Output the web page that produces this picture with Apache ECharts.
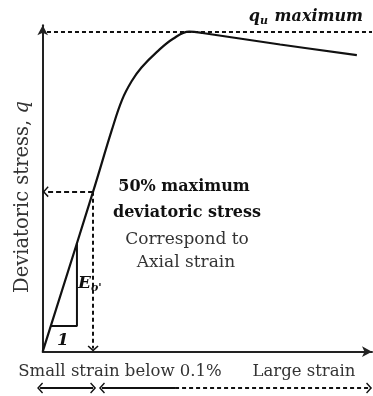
<!DOCTYPE html>
<html>
<head>
<meta charset="utf-8">
<script src="https://cdn.jsdelivr.net/npm/echarts@6/dist/echarts.min.js"></script>
<style>
  html, body { margin: 0; padding: 0; background: #fff; }
  #chart { width: 373px; height: 396px; }
</style>
</head>
<body>
<div id="chart"></div>
<script>
// Stress–strain curve: strain in arbitrary units, deviatoric stress in % of q_u
const strain = [0, 15.3, 21.0, 24.1, 27.0, 30.0, 34.7, 39.6, 44.5, 48.5, 72.1, 95.4];
const stress = [0, 50, 69.3, 78.7, 84.5, 88.8, 93.7, 97.8, 100, 99.6, 96.0, 92.7];
const qMax = 100;
const halfFraction = 0.5;
const halfStrain = 15.3;          // strain where the curve reaches 50 % of q_u
// Initial stiffness triangle (E_o)
const triStrain = [2.46, 10.4, 10.4];
const triStress = [8, 8, 34];
// Strain ranges along the bottom band: left end, small-strain limit, right start, solid end, right end
const bandStops = [-0.8, 15.3, 18.0, 40.2, 99.1];

const FONT = '"DejaVu Serif", "Liberation Serif", serif';
const INK = '#111';
const TXT = '#333';
// open chevron, tip pointing up (markLine rotates it along the line)
const chevron = 'path://M5,0 L10,5 L9,6 L5,2 L1,6 L0,5 Z';

const chart = echarts.init(document.getElementById('chart'), null, { renderer: 'canvas' });

const plainAxis = {
  axisTick: { show: false },
  axisLabel: { show: false },
  splitLine: { show: false }
};

function seg(x1, y1, x2, y2, s1, s2, dash) {
  return [
    { coord: [x1, y1], symbol: s1, symbolSize: [11, 6], lineStyle: { type: dash, color: INK, width: 2 } },
    { coord: [x2, y2], symbol: s2, symbolSize: [11, 6] }
  ];
}

function centered(text, x, y, font, fill) {
  return { type: 'text', x: x, y: y, style: { text: text, font: font, fill: fill, align: 'center', verticalAlign: 'middle' } };
}

const option = {
  animation: false,
  grid: [
    { left: 42.7, right: 1, top: 25.3, bottom: 44.3 },
    { left: 36.11, right: 1, top: 380, height: 20 }
  ],
  xAxis: [
    Object.assign({
      gridIndex: 0, type: 'value', min: 0, max: 100,
      axisLine: { show: true, symbol: ['none', 'arrow'], symbolSize: [8, 10], lineStyle: { color: '#222', width: 2 } }
    }, plainAxis),
    { gridIndex: 1, type: 'value', min: -2, max: 100, show: false }
  ],
  yAxis: [
    Object.assign({
      gridIndex: 0, type: 'value', min: 0, max: 102,
      axisLine: { show: true, symbol: ['none', 'arrow'], symbolSize: [8, 10], lineStyle: { color: '#222', width: 2 } }
    }, plainAxis),
    { gridIndex: 1, type: 'value', min: 0, max: 1, show: false }
  ],
  series: [
    {
      name: 'curve',
      type: 'line',
      xAxisIndex: 0, yAxisIndex: 0,
      data: strain.map((x, i) => [x, stress[i]]),
      smooth: 0.4,
      showSymbol: false,
      clip: false,
      silent: true,
      lineStyle: { color: INK, width: 2.2 },
      markLine: {
        silent: true,
        animation: false,
        label: { show: false },
        emphasis: { disabled: true },
        data: [
          seg(1.3, qMax, 100, qMax, 'none', 'none', [4, 3]),
          seg(halfStrain, qMax * halfFraction, 0.9, qMax * halfFraction, 'none', chevron, [5, 3]),
          seg(halfStrain, qMax * halfFraction, halfStrain, 1.0, 'none', chevron, [4, 3])
        ]
      }
    },
    {
      name: 'stiffness',
      type: 'line',
      xAxisIndex: 0, yAxisIndex: 0,
      data: triStrain.map((x, i) => [x, triStress[i]]),
      showSymbol: false,
      silent: true,
      lineStyle: { color: INK, width: 2 }
    },
    {
      name: 'band',
      type: 'line',
      xAxisIndex: 1, yAxisIndex: 1,
      data: [],
      markLine: {
        silent: true,
        animation: false,
        label: { show: false },
        emphasis: { disabled: true },
        data: [
          seg(bandStops[1], 0.5, bandStops[0], 0.5, chevron, chevron, 'solid'),
          seg(bandStops[2], 0.5, bandStops[3], 0.5, chevron, 'none', 'solid'),
          seg(bandStops[3], 0.5, bandStops[4], 0.5, 'none', chevron, [4, 3])
        ]
      }
    }
  ],
  graphic: [
    {
      type: 'text', x: 363, y: 17,
      style: {
        text: '{q|q}{s|u}{q| maximum}',
        align: 'right', verticalAlign: 'middle', fill: INK,
        rich: {
          q: { font: 'italic bold 16px ' + FONT, fill: INK },
          s: { font: 'italic bold 11px ' + FONT, fill: INK, padding: [8, 1, 0, 0] }
        }
      }
    },
    {
      type: 'text', x: 23, y: 197, rotation: Math.PI / 2,
      style: {
        text: '{r|Deviatoric stress, }{i|q}',
        align: 'center', verticalAlign: 'middle',
        rich: {
          r: { font: '19.5px ' + FONT, fill: TXT },
          i: { font: 'italic 19.5px ' + FONT, fill: TXT }
        }
      }
    },
    centered('50% maximum', 184, 187, 'bold 16px ' + FONT, INK),
    centered('deviatoric stress', 187, 213, 'bold 16px ' + FONT, INK),
    centered('Correspond to', 187, 240, '17px ' + FONT, TXT),
    centered('Axial strain', 186, 263, '17px ' + FONT, TXT),
    {
      type: 'text', x: 78, y: 284,
      style: {
        text: '{e|E}{s|o\'}',
        align: 'left', verticalAlign: 'middle',
        rich: {
          e: { font: 'italic bold 17px ' + FONT, fill: INK },
          s: { font: 'italic bold 11px ' + FONT, fill: INK, padding: [8, 0, 0, 0] }
        }
      }
    },
    centered('1', 63, 341, 'italic bold 17px ' + FONT, INK),
    centered('Small strain below 0.1%', 120, 372, '16.5px ' + FONT, TXT),
    centered('Large strain', 304, 372, '16.5px ' + FONT, TXT)
  ]
};

chart.setOption(option);
</script>
</body>
</html>
